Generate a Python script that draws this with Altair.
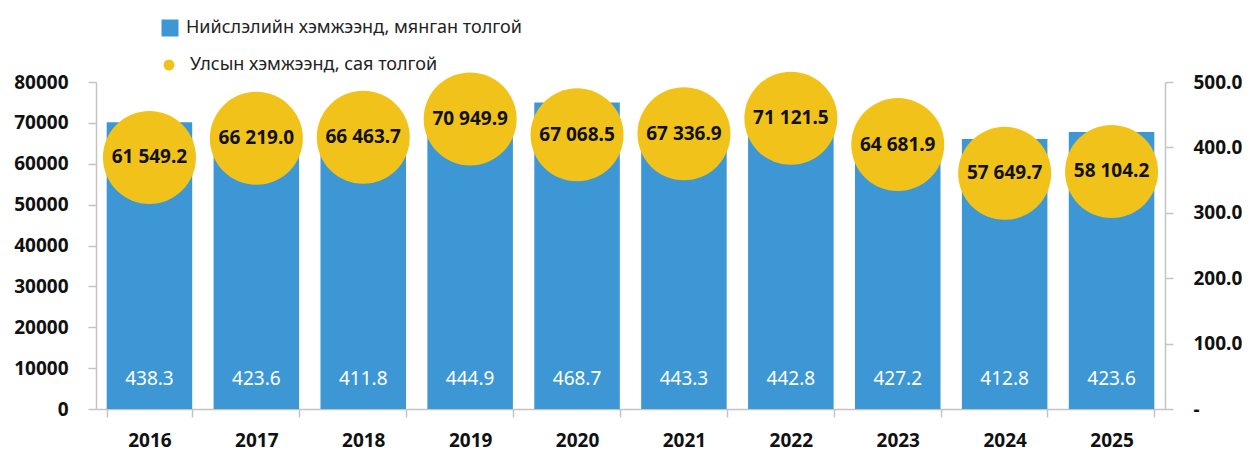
import altair as alt
import pandas as pd

years = ["2016", "2017", "2018", "2019", "2020", "2021", "2022", "2023", "2024", "2025"]
capital_values = [438.3, 423.6, 411.8, 444.9, 468.7, 443.3, 442.8, 427.2, 412.8, 423.6]
national_values = [61549.2, 66219.0, 66463.7, 70949.9, 67068.5, 67336.9, 71121.5, 64681.9, 57649.7, 58104.2]
capital_label = "Нийслэлийн хэмжээнд, мянган толгой"
national_label = "Улсын хэмжээнд, сая толгой"
left_ticks = [0, 10000, 20000, 30000, 40000, 50000, 60000, 70000, 80000]
right_ticks = [0, 100, 200, 300, 400, 500]

FONT = "Noto Sans"
AX = "#C4C4C4"
BLUE = "#3C97D4"
YELLOW = "#F1C31A"
TXT = "#111111"

df = pd.DataFrame({"year": years, "capital": capital_values, "national": national_values})
df["capital_txt"] = [f"{v:.1f}" for v in capital_values]
df["national_txt"] = [f"{v:,.1f}".replace(",", " ") for v in national_values]
df["s1"] = capital_label
df["s2"] = national_label

x_enc = alt.X(
    "year:N", title=None,
    scale=alt.Scale(paddingInner=0.2, paddingOuter=0.1),
    axis=alt.Axis(labelAngle=0, tickBand="extent", tickSize=8, labelPadding=14,
                  labelFontSize=19, labelFontWeight="bold", labelColor=TXT, labelFont=FONT,
                  domainColor=AX, tickColor=AX, domainWidth=1.5, tickWidth=1.5),
)

bar_scale = alt.Scale(domain=[0, 500], nice=False, zero=True)
nat_scale = alt.Scale(domain=[0, 80000], nice=False, zero=True)

bars = alt.Chart(df).mark_bar(opacity=1).encode(
    x=x_enc,
    y=alt.Y("capital:Q", scale=bar_scale, title=None,
            axis=alt.Axis(orient="right", values=right_ticks,
                          labelExpr="datum.value == 0 ? '-' : format(datum.value, '.1f')",
                          tickSize=8, labelPadding=20, labelFontSize=19, labelFontWeight="bold",
                          labelColor=TXT, labelFont=FONT, labelAlign="left", labelLimit=0,
                          domainColor=AX, tickColor=AX, domainWidth=1.5, tickWidth=1.5, grid=False)),
    color=alt.Color("s1:N", scale=alt.Scale(range=[BLUE]),
                    legend=alt.Legend(orient="none", legendX=65, legendY=-63, title=None,
                                      symbolType="square", symbolSize=289, symbolStrokeWidth=0,
                                      labelFontSize=18, labelFont=FONT, labelColor="#222222",
                                      labelOffset=7, padding=0, labelLimit=0)),
)

bar_text = alt.Chart(df).mark_text(color="white", fontSize=19, font=FONT, dy=-30, baseline="middle").encode(
    x=x_enc,
    y=alt.YDatum(0, type="quantitative", scale=bar_scale, axis=None),
    text="capital_txt:N",
)

circles = alt.Chart(df).mark_circle(opacity=1, size=8650).encode(
    x=x_enc,
    y=alt.Y("national:Q", scale=nat_scale, title=None,
            axis=alt.Axis(orient="left", values=left_ticks, format="d",
                          tickSize=8, labelPadding=20, labelFontSize=19, labelFontWeight="bold",
                          labelColor=TXT, labelFont=FONT,
                          domainColor=AX, tickColor=AX, domainWidth=1.5, tickWidth=1.5, grid=False)),
    color=alt.Color("s2:N", scale=alt.Scale(range=[YELLOW]),
                    legend=alt.Legend(orient="none", legendX=64, legendY=-26, title=None,
                                      symbolType="circle", symbolSize=121, symbolStrokeWidth=0,
                                      labelFontSize=18, labelFont=FONT, labelColor="#222222",
                                      labelOffset=12, padding=0, labelLimit=0)),
)

circle_text = alt.Chart(df).mark_text(color=TXT, fontSize=19, fontWeight="bold", font=FONT, baseline="middle").encode(
    x=x_enc,
    y=alt.Y("national:Q", scale=nat_scale, axis=None),
    text="national_txt:N",
)

chart = alt.layer(bars, bar_text, circles, circle_text).resolve_scale(
    y="independent", color="independent"
).properties(
    width=1069, height=327,
    padding={"left": 88, "top": 74, "right": 77, "bottom": 43},
    autosize=alt.AutoSizeParams(type="none"),
).configure_view(stroke=None).configure_axis(grid=False)

chart.save("out.html", embed_options={"renderer": "svg", "actions": False})
